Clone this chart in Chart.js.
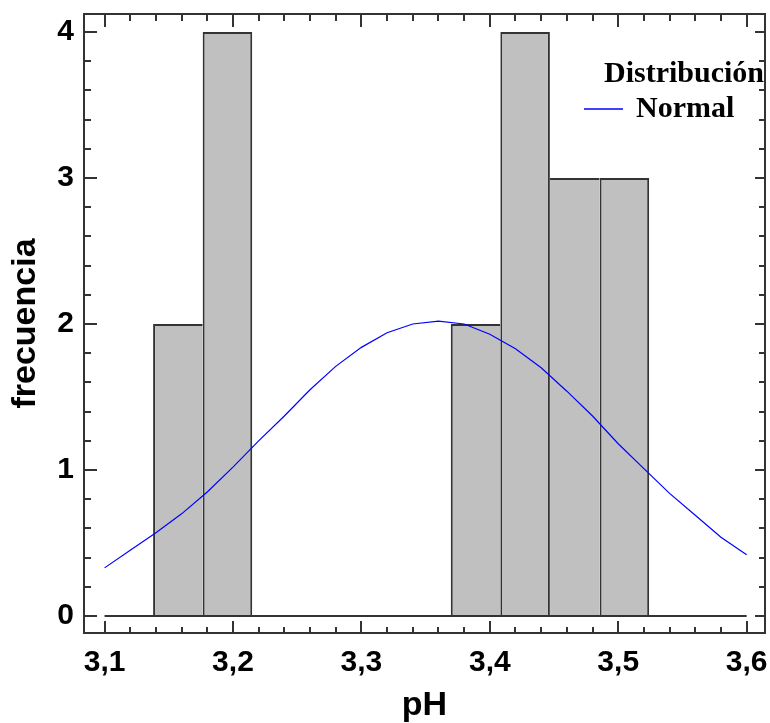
<!DOCTYPE html>
<html lang="es">
<head>
<meta charset="utf-8">
<title>pH - frecuencia</title>
<script src="https://cdn.jsdelivr.net/npm/chart.js@4.4.1/dist/chart.umd.min.js"></script>
<style>
    html, body { margin: 0; padding: 0; background: #ffffff; }
    #wrap { width: 770px; height: 723px; }
</style>
</head>
<body>
<div id="wrap"><canvas id="histo" width="770" height="723"></canvas></div>
<script>
// histogram bins (centre of each pH class) and counts
const binCenters = [3.1571, 3.1957, 3.2344, 3.2730, 3.3116, 3.3503, 3.3889, 3.4275, 3.4662, 3.5048];
const binCounts = [2, 4, 0, 0, 0, 0, 2, 4, 3, 3];

// fitted normal curve
const normalX = [3.10, 3.12, 3.14, 3.16, 3.18, 3.20, 3.22, 3.24, 3.26, 3.28, 3.30, 3.32, 3.34,
                 3.36, 3.38, 3.40, 3.42, 3.44, 3.46, 3.48, 3.50, 3.52, 3.54, 3.56, 3.58, 3.60];
const normalY = [0.33, 0.45, 0.57, 0.70, 0.85, 1.02, 1.20, 1.37, 1.55, 1.71, 1.84, 1.94, 2.00,
                 2.02, 2.00, 1.93, 1.83, 1.70, 1.54, 1.37, 1.18, 1.01, 0.84, 0.69, 0.54, 0.42];

// baseline of the histogram
const baseLineX = [3.1, 3.6];

const xTickValues = [3.1, 3.2, 3.3, 3.4, 3.5, 3.6];
const yTickValues = [0, 1, 2, 3, 4];

const FRAME = "#333333";
const BAR_FILL = "#c0c0c0";
const CURVE = "#0000ff";
const SANS = "'Liberation Sans', Arial, sans-serif";
const SERIF = "'Liberation Serif', 'Times New Roman', serif";

// one 2px line per shared bar edge: the taller neighbour draws it
function barBorder(ctx) {
    const i = ctx.dataIndex;
    const h = binCounts[i];
    const prev = i > 0 ? binCounts[i - 1] : 0;
    const next = i < binCounts.length - 1 ? binCounts[i + 1] : 0;
    return { top: 2, bottom: 0, left: prev <= h ? 2 : 0, right: next < h ? 2 : 0 };
}

// frame with inward tick marks on all four sides
const frameTicks = {
    id: "frameTicks",
    afterDatasetsDraw(chart) {
        const { ctx, chartArea: a, scales: { x, y } } = chart;
        ctx.save();
        ctx.strokeStyle = FRAME;
        ctx.lineWidth = 2;
        ctx.strokeRect(a.left, a.top, a.right - a.left, a.bottom - a.top);

        ctx.beginPath();
        const xStep = (xTickValues[1] - xTickValues[0]) / 5;
        const xCount = Math.round((xTickValues[xTickValues.length - 1] - xTickValues[0]) / xStep);
        for (let i = 0; i <= xCount; i++) {
            const px = Math.round(x.getPixelForValue(xTickValues[0] + i * xStep));
            const major = i % 5 === 0;
            ctx.moveTo(px, a.bottom);
            ctx.lineTo(px, a.bottom - (major ? 12 : 6));
            ctx.moveTo(px, a.top);
            ctx.lineTo(px, a.top + (major ? 13 : 7));
        }
        const yStep = (yTickValues[1] - yTickValues[0]) / 5;
        const yCount = Math.round((yTickValues[yTickValues.length - 1] - yTickValues[0]) / yStep);
        for (let i = 0; i <= yCount; i++) {
            const py = Math.round(y.getPixelForValue(yTickValues[0] + i * yStep));
            const major = i % 5 === 0;
            ctx.moveTo(a.left, py);
            ctx.lineTo(a.left + (major ? 13 : 7), py);
            ctx.moveTo(a.right, py);
            ctx.lineTo(a.right - (major ? 10 : 6), py);
        }
        ctx.stroke();
        ctx.restore();
    },
};

// legend box in the upper right corner
const cornerLegend = {
    id: "cornerLegend",
    afterDraw(chart) {
        const { ctx } = chart;
        ctx.save();
        ctx.fillStyle = "#000000";
        ctx.font = `bold 30px ${SERIF}`;
        ctx.textAlign = "left";
        ctx.textBaseline = "alphabetic";
        ctx.fillText("Distribución", 604, 82);
        ctx.fillText("Normal", 636, 117);
        ctx.strokeStyle = CURVE;
        ctx.lineWidth = 1.5;
        ctx.beginPath();
        ctx.moveTo(584, 109);
        ctx.lineTo(623, 109);
        ctx.stroke();
        ctx.restore();
    },
};

const tickFont = { family: SANS, size: 30, weight: "bold", lineHeight: 1.2 };
const titleFont = { family: SANS, size: 34, weight: "bold", lineHeight: 1 };

new Chart(document.getElementById("histo"), {
    type: "bar",
    data: {
        datasets: [
            {
                type: "line",
                label: "Normal",
                data: normalX.map((v, i) => ({ x: v, y: normalY[i] })),
                borderColor: CURVE,
                borderWidth: 1.2,
                pointRadius: 0,
                tension: 0,
                fill: false,
                order: 1,
            },
            {
                type: "line",
                label: "base",
                data: baseLineX.map((v) => ({ x: v, y: 0 })),
                borderColor: FRAME,
                borderWidth: 2,
                pointRadius: 0,
                order: 2,
            },
            {
                type: "bar",
                label: "frecuencia",
                data: binCenters.map((c, i) => ({ x: c, y: binCounts[i] })),
                backgroundColor: BAR_FILL,
                borderColor: FRAME,
                borderWidth: barBorder,
                borderSkipped: false,
                inflateAmount: 0,
                barPercentage: 1,
                categoryPercentage: 1,
                order: 3,
            },
        ],
    },
    options: {
        responsive: false,
        animation: false,
        layout: { padding: { top: 14, right: 5, left: 0, bottom: 0 }, autoPadding: false },
        plugins: {
            legend: { display: false },
            tooltip: { enabled: false },
        },
        scales: {
            x: {
                type: "linear",
                offset: false,
                min: 3.084,
                max: 3.6143,
                grid: { display: false, drawTicks: false, offset: false },
                border: { display: false },
                ticks: {
                    padding: 12,
                    color: "#000000",
                    font: tickFont,
                    maxRotation: 0,
                    autoSkip: false,
                    callback: (v) => Number(v).toFixed(1).replace(".", ","),
                },
                afterBuildTicks: (s) => { s.ticks = xTickValues.map((v) => ({ value: v })); },
                afterFit: (s) => { s.height = 90; s.paddingLeft = 0; s.paddingRight = 0; },
                title: { display: true, text: "pH", color: "#000000", font: titleFont, padding: 0 },
            },
            y: {
                type: "linear",
                min: -0.116,
                max: 4.123,
                grid: { display: false, drawTicks: false },
                border: { display: false },
                ticks: {
                    padding: 10,
                    color: "#000000",
                    font: tickFont,
                    callback: (v) => String(v),
                },
                afterBuildTicks: (s) => { s.ticks = yTickValues.map((v) => ({ value: v })); },
                afterFit: (s) => { s.width = 84; s.paddingTop = 0; s.paddingBottom = 0; },
                title: { display: true, text: "frecuencia", color: "#000000", font: titleFont, padding: { top: 9, bottom: 0 } },
            },
        },
    },
    plugins: [frameTicks, cornerLegend],
});
</script>
</body>
</html>
